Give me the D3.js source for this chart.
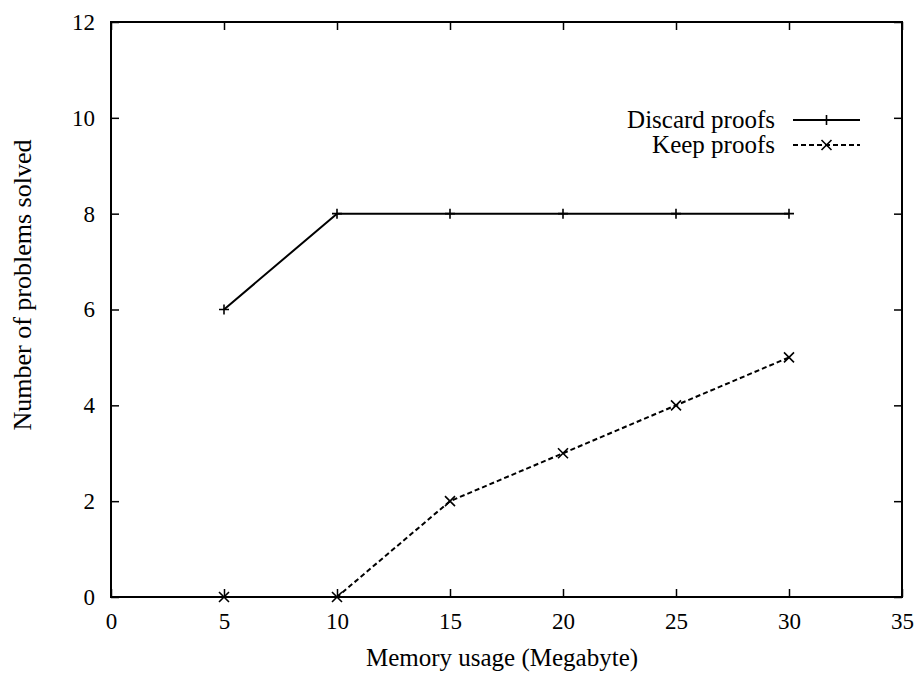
<!DOCTYPE html>
<html>
  <head>
    <script src="https://d3js.org/d3.v7.min.js"></script>
    <style>
      body { margin: 0; background: white; }
      text { font-family: "Liberation Serif", serif; font-size: 25px; fill: black; }
      .tick text { font-family: "Liberation Serif", serif !important; font-size: 23px !important; }
    </style>
  </head>
  <body>
    <svg id="main" width="921" height="675"></svg>
    <script>
      var memory = [5, 10, 15, 20, 25, 30];
      var discardProofs = [6, 8, 8, 8, 8, 8];
      var keepProofs = [0, 0, 2, 3, 4, 5];
      var xTicks = [0, 5, 10, 15, 20, 25, 30, 35];
      var yTicks = [0, 2, 4, 6, 8, 10, 12];

      // plot box (note: "top" is reserved on window, so use plot*)
      var plotLeft = 111, plotRight = 902, plotTop = 22, plotBottom = 597;
      var svg = d3.select('#main');

      var x = d3.scaleLinear().domain([0, 35]).range([plotLeft, plotRight]);
      var y = d3.scaleLinear().domain([0, 12]).range([plotBottom, plotTop]);

      svg.append('rect')
        .attr('x', plotLeft).attr('y', plotTop)
        .attr('width', plotRight - plotLeft).attr('height', plotBottom - plotTop)
        .attr('fill', 'none').attr('stroke', 'black').attr('stroke-width', 2);

      // inward ticks, mirrored on top and right
      var tickLen = 8;
      function fixAxis(g) {
        g.select('.domain').remove();
        g.attr('font-family', 'Liberation Serif').attr('font-size', 23);
      }
      svg.append('g').attr('transform', 'translate(0,' + plotBottom + ')')
        .call(d3.axisBottom(x).tickValues(xTicks).tickSize(-tickLen).tickPadding(16))
        .call(fixAxis);
      svg.append('g').attr('transform', 'translate(0,' + plotTop + ')')
        .call(d3.axisTop(x).tickValues(xTicks).tickSize(-tickLen).tickFormat(''))
        .call(fixAxis);
      svg.append('g').attr('transform', 'translate(' + plotLeft + ',0)')
        .call(d3.axisLeft(y).tickValues(yTicks).tickSize(-tickLen).tickPadding(16))
        .call(fixAxis);
      svg.append('g').attr('transform', 'translate(' + plotRight + ',0)')
        .call(d3.axisRight(y).tickValues(yTicks).tickSize(-tickLen).tickFormat(''))
        .call(fixAxis);

      svg.selectAll('.tick line').attr('stroke', 'black').attr('stroke-width', 1.5);
      svg.selectAll('.tick text').attr('fill', 'black');

      svg.append('text')
        .attr('x', 502).attr('y', 666)
        .attr('text-anchor', 'middle')
        .text('Memory usage (Megabyte)');
      svg.append('text')
        .attr('transform', 'translate(31,285) rotate(-90)')
        .attr('text-anchor', 'middle')
        .style('font-size', '26px')
        .text('Number of problems solved');

      var line = d3.line()
        .x(function(d) { return x(d[0]); })
        .y(function(d) { return y(d[1]); });

      var discardData = memory.map(function(m, i) { return [m, discardProofs[i]]; });
      var keepData = memory.map(function(m, i) { return [m, keepProofs[i]]; });

      svg.append('path').datum(discardData)
        .attr('d', line).attr('fill', 'none')
        .attr('stroke', 'black').attr('stroke-width', 2);
      svg.append('path').datum(keepData)
        .attr('d', line).attr('fill', 'none')
        .attr('stroke', 'black').attr('stroke-width', 2)
        .attr('stroke-dasharray', '5,3');

      var m = 5;
      function plus(sel, px, py) {
        sel.append('path')
          .attr('d', 'M' + (px - m) + ',' + py + 'H' + (px + m) + 'M' + px + ',' + (py - m) + 'V' + (py + m))
          .attr('stroke', 'black').attr('stroke-width', 1.6);
      }
      function cross(sel, px, py) {
        sel.append('path')
          .attr('d', 'M' + (px - m) + ',' + (py - m) + 'L' + (px + m) + ',' + (py + m) +
                     'M' + (px - m) + ',' + (py + m) + 'L' + (px + m) + ',' + (py - m))
          .attr('stroke', 'black').attr('stroke-width', 1.6);
      }

      var pts = svg.append('g');
      discardData.forEach(function(d) { plus(pts, x(d[0]), y(d[1])); });
      keepData.forEach(function(d) { cross(pts, x(d[0]), y(d[1])); });

      // legend
      var lg = svg.append('g');
      var lx1 = 793, lx2 = 860;
      lg.append('text').attr('x', 775).attr('y', 128).attr('text-anchor', 'end').text('Discard proofs');
      lg.append('line').attr('x1', lx1).attr('x2', lx2).attr('y1', 120).attr('y2', 120)
        .attr('stroke', 'black').attr('stroke-width', 2);
      plus(lg, (lx1 + lx2) / 2, 120);
      lg.append('text').attr('x', 775).attr('y', 153).attr('text-anchor', 'end').text('Keep proofs');
      lg.append('line').attr('x1', lx1).attr('x2', lx2).attr('y1', 145).attr('y2', 145)
        .attr('stroke', 'black').attr('stroke-width', 2).attr('stroke-dasharray', '5,3');
      cross(lg, (lx1 + lx2) / 2, 145);
    </script>
  </body>
</html>
